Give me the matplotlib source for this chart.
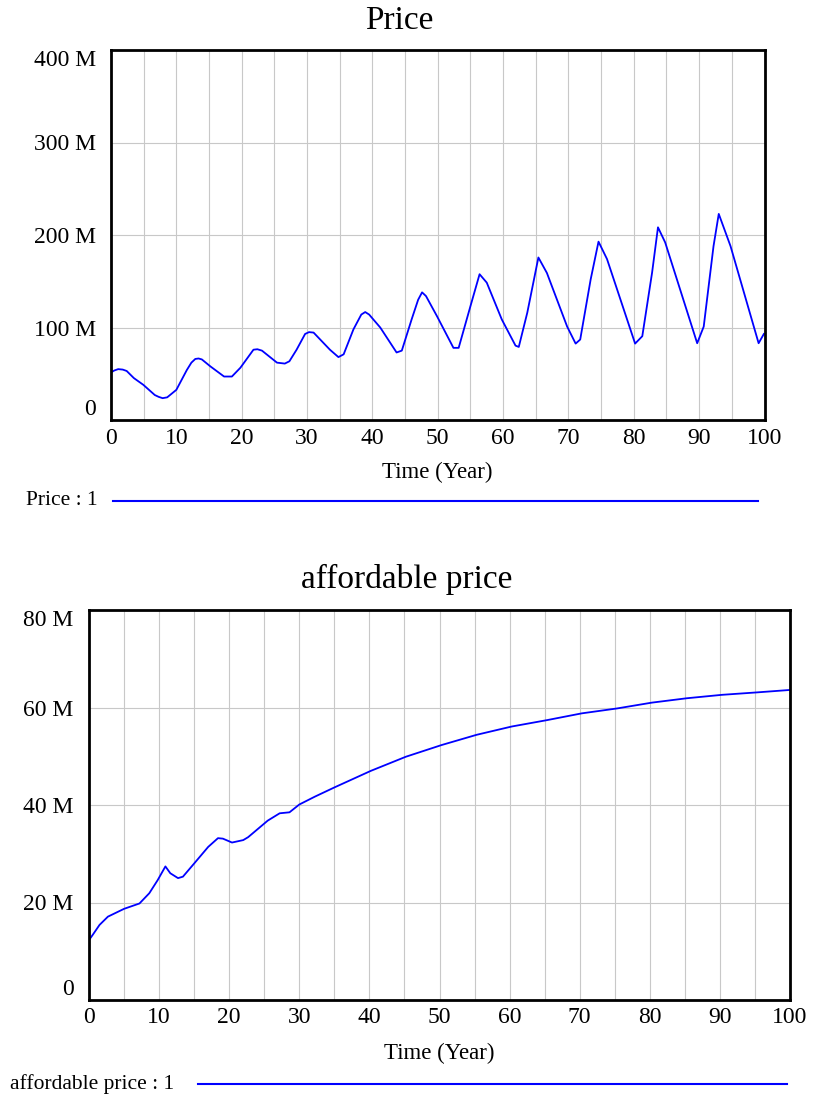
import matplotlib
matplotlib.use('Agg')
import matplotlib.pyplot as plt
from matplotlib.lines import Line2D

plt.rcParams['font.family'] = ['Liberation Serif', 'DejaVu Serif']

price_t = [0, 0.5, 1.1, 1.8, 2.4, 3.5, 4.95, 6.7, 7.3, 7.9, 8.6, 10, 11.6, 12.3, 12.9, 13.4,
           13.9, 15.2, 17.3, 18.5, 19.8, 21.8, 22.4, 23.1, 25.4, 26.6, 27.3, 28.4, 29.7,
           30.3, 31, 33.5, 34.8, 35.6, 37.1, 38.3, 38.9, 39.5, 41.2, 43.7, 44.5, 46,
           47.0, 47.6, 48.2, 49.9, 52.4, 53.2, 55, 56.4, 57.5, 59.8, 61.9, 62.4,
           63.7, 65.4, 66.7, 69.8, 71.1, 71.8, 73.4, 74.6, 75.9, 80.2, 81.3, 82.8,
           83.7, 84.8, 89.7, 90.7, 92.2, 93.0, 94.8, 99.1, 99.9]
price_v = [51.4, 53.5, 55, 54.5, 53, 45.3, 38, 27, 25, 23.6, 24.5, 32.6, 54, 62, 66, 66.5,
           65.5, 58, 47, 47, 56.5, 76, 76.5, 75, 62, 61, 63.5, 76, 93,
           95, 94.5, 76, 68, 71, 98, 114, 116.7, 114, 100, 73, 75, 108.7,
           130, 138, 134, 112, 78, 78, 123, 157.6, 148.5, 108.7, 80.4, 79,
           116, 175.7, 159, 101, 82.6, 87, 152, 192.8, 174, 82.6, 90.6, 159.4,
           208.3, 192, 83, 101, 188, 222.8, 188, 83, 93]

afford_t = [0, 0.5, 1.5, 2.7, 5, 7.2, 8.6, 9.8, 10.9, 11.6, 12.7, 13.4, 15, 17, 18.4, 19.1,
            20.4, 22, 22.7, 25.5, 27.2, 28.6, 30, 32.2, 35, 40.2, 45.2, 50.3, 55.3,
            60.3, 65.3, 70.3, 75.3, 80.3, 85.3, 90.3, 95.3, 100]
afford_v = [12.3, 13.3, 15.4, 17.1, 18.7, 19.8, 21.9, 24.6, 27.4, 26, 25, 25.3, 28, 31.4, 33.2, 33.1,
            32.3, 32.8, 33.4, 36.8, 38.3, 38.5, 40.1, 41.7, 43.6, 47, 49.9, 52.3, 54.4,
            56.1, 57.4, 58.8, 59.8, 61, 61.9, 62.6, 63.1, 63.6]

x_ticks = [0, 10, 20, 30, 40, 50, 60, 70, 80, 90, 100]
x_grid = list(range(5, 100, 5))
price_yticks = [0, 100, 200, 300, 400]
price_ylabels = ['0', '100 M', '200 M', '300 M', '400 M']
afford_yticks = [0, 20, 40, 60, 80]
afford_ylabels = ['0', '20 M', '40 M', '60 M', '80 M']

W, H = 814, 1101
fig = plt.figure(figsize=(W / 100, H / 100), dpi=100)

def px_axes(x0, x1, ytop, ybot):
    return fig.add_axes([x0 / W, 1 - ybot / H, (x1 - x0) / W, (ybot - ytop) / H])

def style(ax, yticks, ylabels, ymax, xpad, labelpad):
    ax.set_xlim(0, 100)
    ax.set_ylim(0, ymax)
    for g in x_grid:
        ax.axvline(g, color='#c8c8c8', lw=0.8, zorder=0)
    for g in yticks[1:-1]:
        ax.axhline(g, color='#c8c8c8', lw=0.8, zorder=0)
    ax.set_xticks(x_ticks)
    ax.set_xticklabels([str(v) for v in x_ticks])
    ax.set_yticks(yticks)
    ax.set_yticklabels(ylabels)
    ax.tick_params(length=0, labelsize=17)
    ax.tick_params(axis='y', pad=11)
    ax.tick_params(axis='x', pad=xpad)
    labs = ax.get_yticklabels()
    labs[0].set_verticalalignment('bottom')
    labs[-1].set_verticalalignment('top')
    for s in ax.spines.values():
        s.set_linewidth(2)
        s.set_color('black')
    ax.set_xlabel('Time (Year)', fontsize=16.5, labelpad=labelpad)

# oben: Price
ax1 = px_axes(111, 764.5, 50, 420)
ax1.plot(price_t, price_v, color='#0000ff', lw=1.3)
style(ax1, price_yticks, price_ylabels, 400, 6, 9)
fig.text(399 / W, 1 - 21 / H, 'Price', ha='center', va='center', fontsize=24)
fig.text(26 / W, 1 - 501 / H, 'Price : 1', ha='left', va='center', fontsize=15.5)
fig.add_artist(Line2D([113 / W, 758 / W], [1 - 501 / H, 1 - 501 / H], color='#0000ff', lw=1.5))

# unten: affordable price
ax2 = px_axes(89, 790, 610, 1000)
ax2.plot(afford_t, afford_v, color='#0000ff', lw=1.3)
style(ax2, afford_yticks, afford_ylabels, 80, 5, 11)
fig.text(407 / W, 1 - 579 / H, 'affordable price', ha='center', va='center', fontsize=24)
fig.text(10 / W, 1 - 1084 / H, 'affordable price : 1', ha='left', va='center', fontsize=15.5)
fig.add_artist(Line2D([198 / W, 787 / W], [1 - 1084 / H, 1 - 1084 / H], color='#0000ff', lw=1.5))

fig.savefig('out.png', dpi=100)
